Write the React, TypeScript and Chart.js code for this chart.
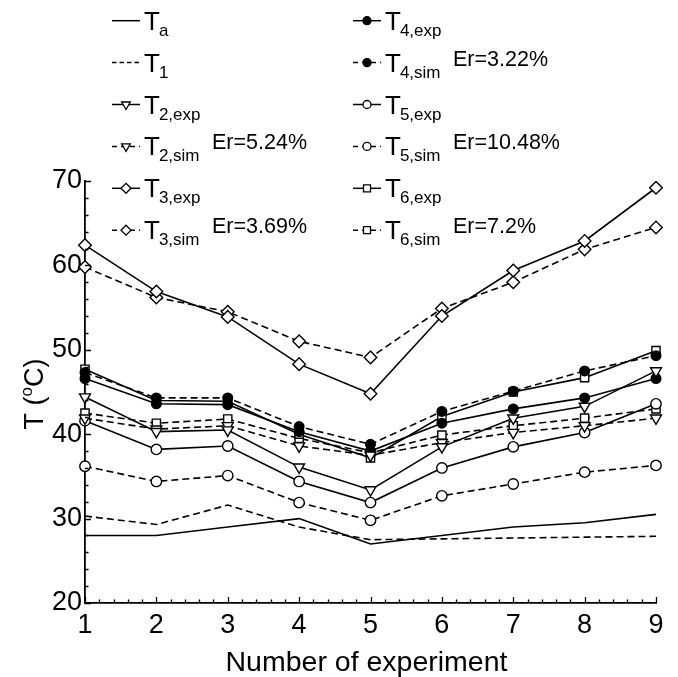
import React, { useEffect, useRef } from 'react';
import { Chart, registerables } from 'chart.js';

Chart.register(...registerables);

// ---------- data ----------
const experiments = [1, 2, 3, 4, 5, 6, 7, 8, 9];
const xTickValues = [1, 2, 3, 4, 5, 6, 7, 8, 9];
const yTickValues = [20, 30, 40, 50, 60, 70];

const Ta = [28.0, 28.0, 29.0, 30.0, 27.0, 28.0, 29.0, 29.5, 30.5];
const T1 = [30.3, 29.3, 31.6, 29.0, 27.5, 27.6, 27.7, 27.8, 27.9];
const T2exp = [44.4, 40.3, 40.5, 36.1, 33.4, 38.5, 41.9, 43.3, 47.5];
const T2sim = [41.9, 40.6, 41.0, 38.6, 37.5, 39.0, 40.2, 41.0, 41.9];
const T3exp = [62.4, 56.9, 53.9, 48.3, 44.8, 54.0, 59.4, 62.9, 69.2];
const T3sim = [59.8, 56.2, 54.5, 51.0, 49.1, 54.9, 58.0, 61.9, 64.5];
const T4exp = [46.6, 43.6, 43.5, 40.3, 38.0, 41.3, 43.0, 44.3, 46.6];
const T4sim = [47.3, 44.3, 44.3, 40.9, 38.8, 42.7, 45.1, 47.5, 49.3];
const T5exp = [41.6, 38.2, 38.6, 34.4, 31.9, 36.0, 38.5, 40.2, 43.6];
const T5sim = [36.2, 34.4, 35.1, 31.9, 29.8, 32.7, 34.1, 35.5, 36.3];
const T6exp = [47.7, 44.0, 43.9, 40.0, 37.2, 42.1, 45.0, 46.7, 49.9];
const T6sim = [42.5, 41.3, 41.8, 39.5, 37.8, 39.9, 41.0, 41.9, 43.0];

const seriesSubs = ['a', '1', '2,exp', '2,sim', '3,exp', '3,sim', '4,exp', '4,sim', '5,exp', '5,sim', '6,exp', '6,sim'];
const seriesErrors = ['', '', '', 'Er=5.24%', '', 'Er=3.69%', '', 'Er=3.22%', '', 'Er=10.48%', '', 'Er=7.2%'];
const seriesValues = [Ta, T1, T2exp, T2sim, T3exp, T3sim, T4exp, T4sim, T5exp, T5sim, T6exp, T6sim];

const xTitle = 'Number of experiment';

// ---------- styles ----------
type Marker = 'none' | 'triDown' | 'diamond' | 'dot' | 'circle' | 'square';
const seriesMarkers: Marker[] = ['none', 'none', 'triDown', 'triDown', 'diamond', 'diamond', 'dot', 'dot', 'circle', 'circle', 'square', 'square'];
const seriesDashed = [false, true, false, true, false, true, false, true, false, true, false, true];

const FONT = '"Liberation Sans", Arial, Helvetica, sans-serif';

function markerStyle(m: Marker) {
  switch (m) {
    case 'triDown': return { pointStyle: 'triangle', pointRadius: 6.3, pointRotation: 180, bg: '#fff' };
    case 'diamond': return { pointStyle: 'rectRot', pointRadius: 6.3, pointRotation: 0, bg: '#fff' };
    case 'dot': return { pointStyle: 'circle', pointRadius: 4.8, pointRotation: 0, bg: '#000' };
    case 'circle': return { pointStyle: 'circle', pointRadius: 5.2, pointRotation: 0, bg: '#fff' };
    case 'square': return { pointStyle: 'rect', pointRadius: 5.8, pointRotation: 0, bg: '#fff' };
    default: return { pointStyle: false as any, pointRadius: 0, pointRotation: 0, bg: '#fff' };
  }
}

function drawMarker(ctx: CanvasRenderingContext2D, m: Marker, x: number, y: number, s: number) {
  if (m === 'none') return;
  ctx.save();
  ctx.setLineDash([]);
  ctx.lineWidth = 1.3;
  ctx.strokeStyle = '#000';
  ctx.fillStyle = m === 'dot' ? '#000' : '#fff';
  ctx.beginPath();
  if (m === 'triDown') {
    const r = s;
    ctx.moveTo(x - r * 0.866, y - r * 0.5);
    ctx.lineTo(x + r * 0.866, y - r * 0.5);
    ctx.lineTo(x, y + r);
    ctx.closePath();
  } else if (m === 'diamond') {
    ctx.moveTo(x, y - s);
    ctx.lineTo(x + s, y);
    ctx.lineTo(x, y + s);
    ctx.lineTo(x - s, y);
    ctx.closePath();
  } else if (m === 'dot' || m === 'circle') {
    ctx.arc(x, y, s * 0.8, 0, Math.PI * 2);
  } else if (m === 'square') {
    const h = s * 0.7;
    ctx.rect(x - h, y - h, 2 * h, 2 * h);
  }
  ctx.fill();
  ctx.stroke();
  ctx.restore();
}

const decorPlugin = {
  id: 'decor',
  afterDraw(chart: any) {
    const ctx: CanvasRenderingContext2D = chart.ctx;
    const xs = chart.scales.x;
    const ys = chart.scales.y;
    const { left, right, bottom } = chart.chartArea;
    ctx.save();
    ctx.strokeStyle = '#000';
    ctx.lineWidth = 1.3;
    ctx.setLineDash([]);
    ctx.beginPath();
    // x ticks (inward)
    const xMin = xTickValues[0];
    const xMax = xTickValues[xTickValues.length - 1];
    const nx = Math.round((xMax - xMin) * 5);
    for (let i = 0; i <= nx; i++) {
      const v = xMin + i / 5;
      const px = Math.round(xs.getPixelForValue(v)) + 0.5;
      const major = i % 5 === 0;
      ctx.moveTo(px, bottom);
      ctx.lineTo(px, bottom - (major ? 6 : 3.5));
    }
    // y ticks (inward)
    const yMin = yTickValues[0];
    const yMax = yTickValues[yTickValues.length - 1];
    const ny = Math.round((yMax - yMin) / 2);
    for (let i = 0; i <= ny; i++) {
      const v = yMin + i * 2;
      const py = Math.round(ys.getPixelForValue(v)) + 0.5;
      const major = i % 5 === 0;
      ctx.moveTo(left, py);
      ctx.lineTo(left + (major ? 6 : 3.5), py);
    }
    ctx.stroke();

    // x title
    ctx.fillStyle = '#000';
    ctx.font = `28.5px ${FONT}`;
    ctx.textAlign = 'center';
    ctx.textBaseline = 'alphabetic';
    ctx.fillText(xTitle, (left + right) / 2 - 4, 671);

    // y title: T (°C) with superscript o
    ctx.save();
    ctx.translate(34, 394);
    ctx.rotate(-Math.PI / 2);
    ctx.textAlign = 'left';
    const big = `27px ${FONT}`;
    const small = `17px ${FONT}`;
    ctx.font = big;
    const w1 = ctx.measureText('T (').width;
    const w3 = ctx.measureText('C)').width;
    ctx.font = small;
    const w2 = ctx.measureText('o').width;
    const total = w1 + w2 + w3;
    let cx = -total / 2;
    const base = 9;
    ctx.font = big;
    ctx.fillText('T (', cx, base);
    cx += w1;
    ctx.font = small;
    ctx.fillText('o', cx, base - 11);
    cx += w2;
    ctx.font = big;
    ctx.fillText('C)', cx, base);
    ctx.restore();

    // legend
    const colX = [112, 353];
    const erX = [212, 453];
    const rowY0 = 20.7;
    const rowStep = 41.9;
    for (let i = 0; i < seriesSubs.length; i++) {
      const col = i < 6 ? 0 : 1;
      const row = i % 6;
      const y = rowY0 + row * rowStep;
      const x0 = colX[col];
      const m = seriesMarkers[i];
      ctx.save();
      ctx.strokeStyle = '#000';
      ctx.lineWidth = 1.5;
      if (seriesDashed[i]) {
        ctx.setLineDash(m === 'none' ? [4.5, 3] : [5, 4]);
      } else {
        ctx.setLineDash([]);
      }
      ctx.beginPath();
      ctx.moveTo(x0, y);
      ctx.lineTo(x0 + 28, y);
      ctx.stroke();
      ctx.restore();
      drawMarker(ctx, m, x0 + 14, y, 5);

      ctx.fillStyle = '#000';
      ctx.textAlign = 'left';
      ctx.font = `26px ${FONT}`;
      const tx = x0 + 32;
      ctx.fillText('T', tx, y + 9);
      const tw = ctx.measureText('T').width;
      ctx.font = `17px ${FONT}`;
      ctx.fillText(seriesSubs[i], tx + tw - 1, y + 15);
      if (seriesErrors[i]) {
        ctx.font = `21.5px ${FONT}`;
        ctx.fillText(seriesErrors[i], erX[col], y + 3);
      }
    }
    ctx.restore();
  },
};

export default function App() {
  const canvasRef = useRef<HTMLCanvasElement | null>(null);

  useEffect(() => {
    const canvas = canvasRef.current;
    if (!canvas) return;
    const datasets = seriesValues.map((vals, i) => {
      const ms = markerStyle(seriesMarkers[i]);
      return {
        label: 'T' + seriesSubs[i],
        data: experiments.map((x, j) => ({ x, y: vals[j] })),
        borderColor: '#000',
        borderWidth: 1.6,
        borderDash: seriesDashed[i] ? [7, 4] : [],
        pointStyle: ms.pointStyle,
        pointRadius: ms.pointRadius,
        pointRotation: ms.pointRotation,
        pointBackgroundColor: ms.bg,
        pointBorderColor: '#000',
        pointBorderWidth: 1.4,
        pointHoverRadius: ms.pointRadius,
        tension: 0,
        fill: false,
        clip: false as any,
      };
    });
    const chart = new Chart(canvas, {
      type: 'line',
      data: { datasets: datasets as any },
      options: {
        responsive: false,
        animation: false,
        events: [],
        layout: { padding: { top: 181, right: 22, left: 0, bottom: 0 } },
        plugins: {
          legend: { display: false },
          tooltip: { enabled: false },
          title: { display: false },
        },
        scales: {
          x: {
            type: 'linear',
            min: xTickValues[0],
            max: xTickValues[xTickValues.length - 1],
            afterBuildTicks: (s: any) => { s.ticks = xTickValues.map((v) => ({ value: v })); },
            ticks: { color: '#000', font: { family: FONT, size: 27 }, padding: 6, maxRotation: 0, autoSkip: false },
            grid: { display: false, drawTicks: false },
            border: { display: true, color: '#000', width: 1.8 },
            afterFit: (s: any) => { s.height = 74; },
          },
          y: {
            type: 'linear',
            min: yTickValues[0],
            max: yTickValues[yTickValues.length - 1],
            afterBuildTicks: (s: any) => { s.ticks = yTickValues.map((v) => ({ value: v })); },
            ticks: { color: '#000', font: { family: FONT, size: 27 }, padding: 3, autoSkip: false },
            grid: { display: false, drawTicks: false },
            border: { display: true, color: '#000', width: 1.8 },
            afterFit: (s: any) => { s.width = 85; },
          },
        },
      },
      plugins: [decorPlugin],
    });
    return () => chart.destroy();
  }, []);

  return (
    <div style={{ position: 'absolute', left: 0, top: 0, width: 678, height: 677, background: '#fff' }}>
      <canvas ref={canvasRef} width={678} height={677} style={{ display: 'block' }} />
    </div>
  );
}
